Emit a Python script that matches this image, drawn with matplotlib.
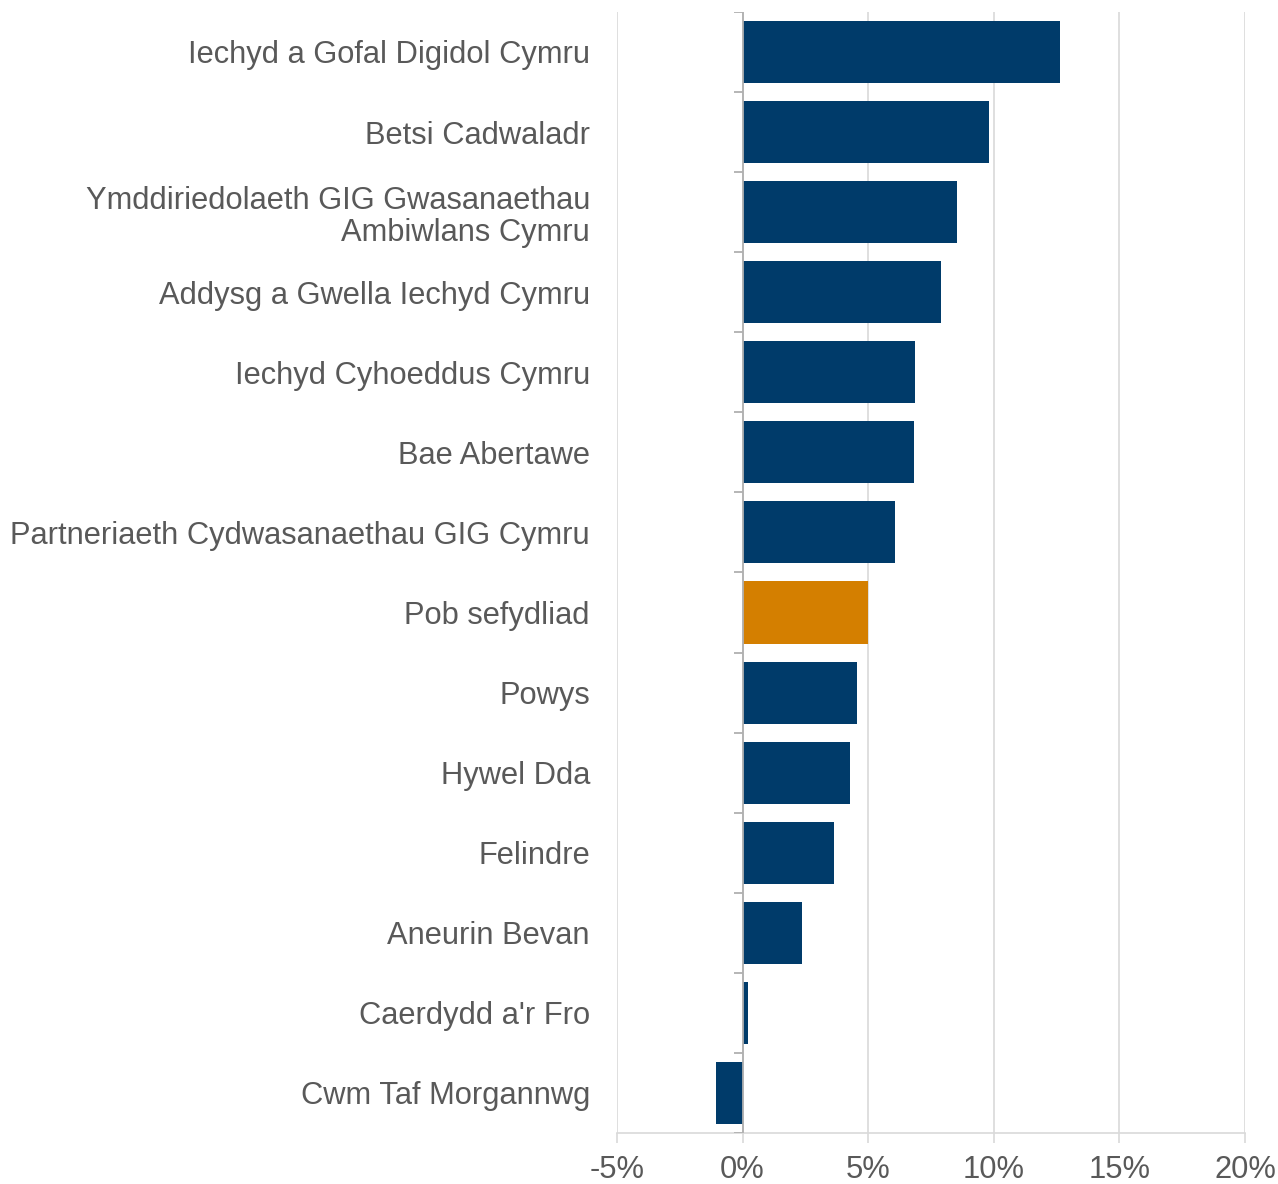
import matplotlib.pyplot as plt
import numpy as np
from matplotlib.ticker import FuncFormatter

plt.rcParams['font.family'] = ['Liberation Sans', 'DejaVu Sans']

# Organisations, top to bottom
labels = ['Iechyd a Gofal Digidol Cymru',
          'Betsi Cadwaladr',
          'Ymddiriedolaeth GIG Gwasanaethau\nAmbiwlans Cymru',
          'Addysg a Gwella Iechyd Cymru',
          'Iechyd Cyhoeddus Cymru',
          'Bae Abertawe',
          'Partneriaeth Cydwasanaethau GIG Cymru',
          'Pob sefydliad',
          'Powys',
          'Hywel Dda',
          'Felindre',
          'Aneurin Bevan',
          "Caerdydd a'r Fro",
          'Cwm Taf Morgannwg']
# Percentage change
values = [12.65, 9.8, 8.55, 7.9, 6.85, 6.82, 6.08, 5.0, 4.55, 4.26, 3.63, 2.38, 0.2, -1.05]
highlight = 'Pob sefydliad'

xticks = [-5, 0, 5, 10, 15, 20]

navy = '#003b6a'
orange = '#d47f00'
grid_col = '#d9d9d9'
text_col = '#595959'

fig = plt.figure(figsize=(12.78, 11.84), dpi=100)
ax = fig.add_axes([0.4828, 0.0431, 0.4914, 0.9468])

y = np.arange(len(labels))
colors = [orange if l == highlight else navy for l in labels]
ax.barh(y, values, height=0.775, color=colors, zorder=3)

ax.set_xlim(-5, 20)
ax.set_ylim(len(labels) - 0.5, -0.5)
ax.set_xticks(xticks)
ax.xaxis.set_major_formatter(FuncFormatter(lambda v, p: '%d%%' % v))
ax.grid(axis='x', color=grid_col, linewidth=1.2, zorder=0)
ax.set_axisbelow(True)

# zero line with category tick marks
bounds = np.arange(len(labels) + 1) - 0.5
ax.vlines(0, bounds[0], bounds[-1], color='#b0b0b0', linewidth=1.3, zorder=4)
ax.hlines(bounds, -0.33, 0, color='#b0b0b0', linewidth=1.3, zorder=4)

ax.set_yticks(y)
ax.set_yticklabels(labels, linespacing=1.1)
ax.tick_params(axis='y', length=0, pad=19.5, labelsize=22.2, labelcolor=text_col)
ax.tick_params(axis='x', length=7, width=1.2, color=grid_col, pad=9, labelsize=22.2,
               labelcolor=text_col)

for s in ['top', 'right', 'left']:
    ax.spines[s].set_visible(False)
ax.spines['bottom'].set_color(grid_col)
ax.spines['bottom'].set_linewidth(1.2)

fig.savefig('out.png', dpi=100)
